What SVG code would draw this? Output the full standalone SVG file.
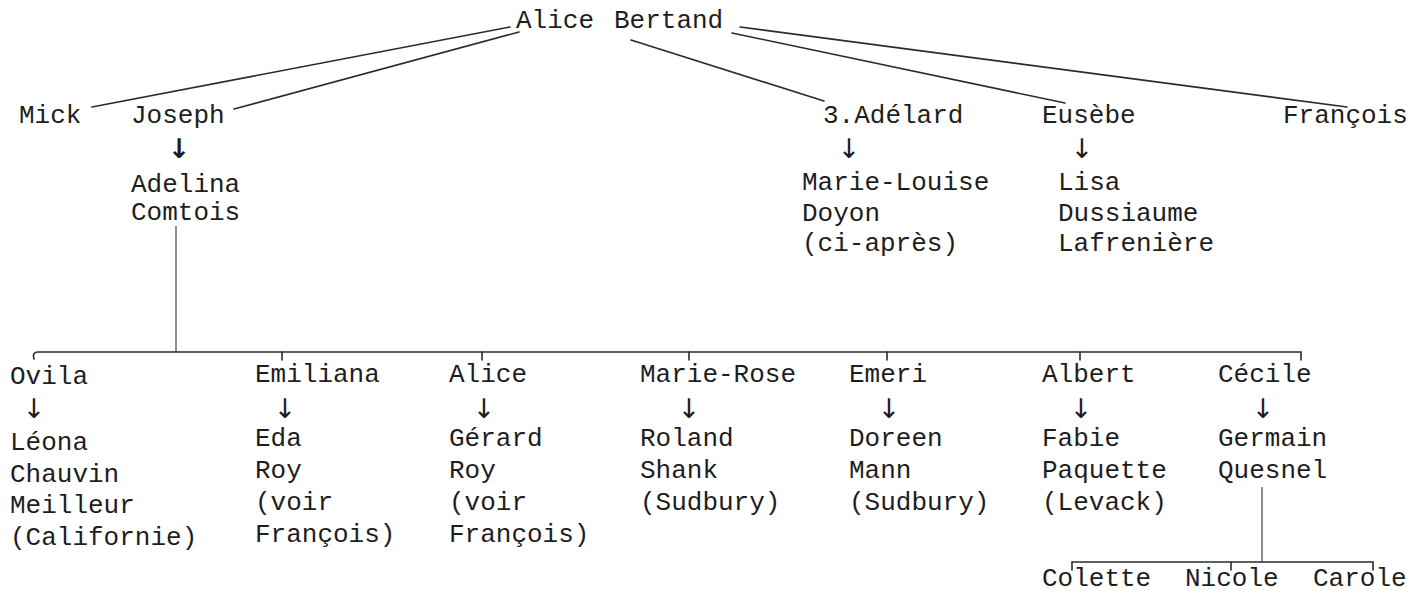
<svg xmlns="http://www.w3.org/2000/svg" width="1425" height="595" viewBox="0 0 1425 595">
<style>
text{font-family:"Liberation Mono","DejaVu Sans Mono",monospace;font-size:26px;fill:#1e1e1e}
text.ar{font-family:"DejaVu Sans","DejaVu Sans Mono",sans-serif;font-size:27px;font-weight:normal;text-anchor:middle;fill:#1e1e1e}
.ln{stroke:#2a2a2a;stroke-width:1.6;fill:none;stroke-linecap:round}
.lt{stroke:#444;stroke-width:1.2;fill:none}
</style>
<rect width="1425" height="595" fill="#fff"/>
<g id="connectors">
<path class="ln" d="M510 27 L92 107"/>
<path class="ln" d="M519 32 L234 109"/>
<path class="ln" d="M631 40 L824 101"/>
<path class="ln" d="M732 33 L1065 103"/>
<path class="ln" d="M740 27 L1347 107"/>
<path class="lt" d="M176 226 V352"/>
<path class="ln" d="M34 359 Q32 352 38 352 H1301 V360"/>
<path class="ln" d="M282 352 V360 M482 352 V360 M689 352 V360 M887 352 V360 M1080 352 V360"/>
<path class="lt" d="M1262 487 V562"/>
<path class="ln" d="M1072 570 V562 H1373 V570 M1231 562 V570"/>
</g>
<g id="n-parents"><text x="516" y="28">Alice</text><text x="614" y="28">Bertand</text></g>
<g id="n-mick"><text x="19" y="123">Mick</text></g>
<g id="n-joseph"><text x="131" y="123">Joseph</text><text class="ar" x="179" y="158" style="font-weight:bold">↓</text><text x="131" y="192">Adelina</text><text x="131" y="220">Comtois</text></g>
<g id="n-adelard"><text x="823" y="123">3.Adélard</text><text class="ar" x="849" y="158">↓</text><text x="802" y="190">Marie-Louise</text><text x="802" y="221">Doyon</text><text x="802" y="251">(ci-après)</text></g>
<g id="n-eusebe"><text x="1042" y="123">Eusèbe</text><text class="ar" x="1082" y="158">↓</text><text x="1058" y="190">Lisa</text><text x="1058" y="221">Dussiaume</text><text x="1058" y="251">Lafrenière</text></g>
<g id="n-francois"><text x="1283" y="123">François</text></g>
<g id="n-ovila"><text x="10" y="384">Ovila</text><text class="ar" x="34" y="418">↓</text><text x="10" y="450">Léona</text><text x="10" y="482">Chauvin</text><text x="10" y="513">Meilleur</text><text x="10" y="545">(Californie)</text></g>
<g id="n-emiliana"><text x="255" y="382">Emiliana</text><text class="ar" x="285" y="418">↓</text><text x="255" y="446">Eda</text><text x="255" y="478">Roy</text><text x="255" y="510">(voir</text><text x="255" y="542">François)</text></g>
<g id="n-alice2"><text x="449" y="382">Alice</text><text class="ar" x="484" y="418">↓</text><text x="449" y="446">Gérard</text><text x="449" y="478">Roy</text><text x="449" y="510">(voir</text><text x="449" y="542">François)</text></g>
<g id="n-marierose"><text x="640" y="382">Marie-Rose</text><text class="ar" x="689" y="418">↓</text><text x="640" y="446">Roland</text><text x="640" y="478">Shank</text><text x="640" y="510">(Sudbury)</text></g>
<g id="n-emeri"><text x="849" y="382">Emeri</text><text class="ar" x="889" y="418">↓</text><text x="849" y="446">Doreen</text><text x="849" y="478">Mann</text><text x="849" y="510">(Sudbury)</text></g>
<g id="n-albert"><text x="1042" y="382">Albert</text><text class="ar" x="1081" y="418">↓</text><text x="1042" y="446">Fabie</text><text x="1042" y="478">Paquette</text><text x="1042" y="510">(Levack)</text></g>
<g id="n-cecile"><text x="1218" y="382">Cécile</text><text class="ar" x="1263" y="418">↓</text><text x="1218" y="446">Germain</text><text x="1218" y="478">Quesnel</text></g>
<g id="n-colette"><text x="1042" y="586">Colette</text></g>
<g id="n-nicole"><text x="1185" y="586">Nicole</text></g>
<g id="n-carole"><text x="1313" y="586">Carole</text></g>
</svg>
